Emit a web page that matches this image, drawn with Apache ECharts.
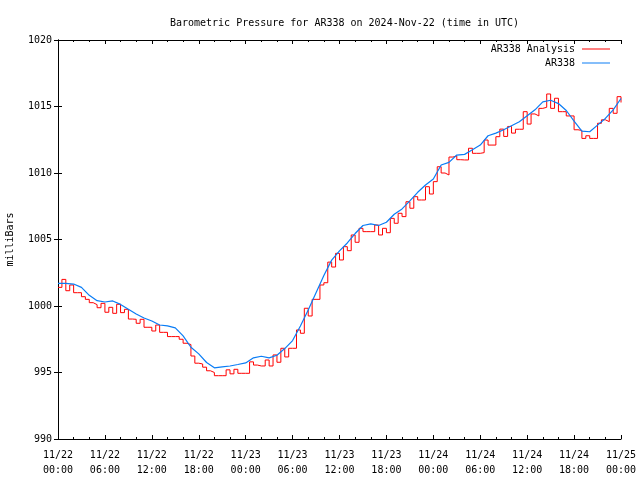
<!DOCTYPE html>
<html><head><meta charset="utf-8">
<script src="https://cdn.jsdelivr.net/npm/echarts@6/dist/echarts.min.js"></script>
<style>html,body{margin:0;padding:0;background:#fff}#c{width:640px;height:480px}</style>
</head><body><div id="c"></div>
<script>
// Hours since 2024-11-22 00:00 UTC
const xTickLabels = ['11/22\n00:00','11/22\n06:00','11/22\n12:00','11/22\n18:00','11/23\n00:00','11/23\n06:00','11/23\n12:00','11/23\n18:00','11/24\n00:00','11/24\n06:00','11/24\n12:00','11/24\n18:00','11/25\n00:00'];
const yTickLabels = ['990','995','1000','1005','1010','1015','1020'];

// AR338 Analysis (half-hourly, hours 0..72)
const analysisHours = [];
for (let i = 0; i <= 144; i++) analysisHours.push(i / 2);
const analysisValues = [
1001.4,1002.0,1001.15,1001.58,1001.0,1001.0,1000.7,1000.5,1000.25,1000.1,
999.87,1000.2,999.53,999.9,999.45,1000.13,999.5,999.75,999.02,999.0,
998.7,999.0,998.4,998.4,998.12,998.57,998.02,998.02,997.7,997.7,
997.7,997.5,997.2,997.1,996.24,995.7,995.64,995.4,995.13,995.0,
994.76,994.76,994.76,995.2,994.9,995.24,994.94,994.94,994.94,995.8,
995.56,995.49,995.49,995.94,995.49,996.32,995.77,996.82,996.17,996.82,
996.82,998.2,997.95,999.83,999.25,1000.5,1000.5,1001.58,1001.75,1003.3,
1002.93,1003.96,1003.46,1004.46,1004.16,1005.34,1004.79,1005.84,1005.59,1005.59,
1005.59,1006.09,1005.34,1005.84,1005.51,1006.59,1006.22,1006.97,1006.72,1007.84,
1007.35,1008.22,1007.97,1007.97,1008.97,1008.42,1009.35,1010.47,1010.0,1009.85,
1011.2,1011.28,1011.0,1010.98,1010.98,1011.86,1011.48,1011.48,1011.53,1012.48,
1012.1,1012.1,1012.73,1013.3,1012.75,1013.5,1013.0,1013.29,1013.29,1014.61,
1013.68,1014.44,1014.29,1014.86,1014.94,1015.94,1014.86,1015.62,1014.61,1014.61,
1014.29,1014.29,1013.25,1013.2,1012.6,1012.8,1012.6,1012.6,1013.74,1014.0,
1013.86,1014.86,1014.49,1015.74,1015.3
];

// AR338 observations (hourly, hours 0..72)
const obsHours = [];
for (let i = 0; i <= 72; i++) obsHours.push(i);
const obsValues = [
1001.7,1001.7,1001.65,1001.4,1000.8,1000.4,1000.3,1000.38,1000.12,999.75,
999.4,999.1,998.87,998.57,998.5,998.35,997.75,996.9,996.4,995.75,
995.35,995.43,995.49,995.6,995.72,996.1,996.22,996.1,996.3,996.8,
997.4,998.5,999.7,1001.0,1002.3,1003.45,1004.15,1004.74,1005.45,1006.05,
1006.17,1006.05,1006.3,1006.9,1007.3,1007.9,1008.55,1009.1,1009.55,1010.6,
1010.8,1011.35,1011.4,1011.75,1012.1,1012.8,1013.0,1013.25,1013.55,1013.85,
1014.3,1014.75,1015.35,1015.47,1015.22,1014.7,1013.9,1013.15,1013.1,1013.6,
1014.1,1014.75,1015.6
];

const FONT = 'DejaVu Sans Mono';
const FS = 10;
const chart = echarts.init(document.getElementById('c'), null, {renderer: 'canvas'});
const axisCommon = {
  axisLine: {show: true, lineStyle: {color: '#000', width: 1}},
  splitLine: {show: false}
};
chart.setOption({
  animation: false,
  backgroundColor: '#fff',
  title: {
    text: 'Barometric Pressure for AR338 on 2024-Nov-22 (time in UTC)',
    left: 339.5, top: 13, textAlign: 'center',
    textStyle: {fontFamily: FONT, fontSize: FS, fontWeight: 'normal', color: '#000'}
  },
  legend: [
    {data: ['AR338 Analysis'], right: 30, top: 44, align: 'right', itemWidth: 28, itemHeight: 1, itemGap: 0,
     icon: 'rect', textStyle: {fontFamily: FONT, fontSize: FS, color: '#000', padding: [0, 2, 0, 0]}, padding: 0},
    {data: ['AR338'], right: 30, top: 58, align: 'right', itemWidth: 28, itemHeight: 1, itemGap: 0,
     icon: 'rect', textStyle: {fontFamily: FONT, fontSize: FS, color: '#000', padding: [0, 2, 0, 0]}, padding: 0}
  ],
  grid: {left: 58, right: 19, top: 40, bottom: 41, containLabel: false, outerBoundsMode: 'none'},
  xAxis: [
    Object.assign({}, axisCommon, {
      type: 'value', min: 0, max: 72, interval: 6, position: 'bottom',
      axisTick: {show: true, inside: true, length: 4, lineStyle: {color: '#000'}},
      minorTick: {show: true, splitNumber: 3, length: 2, lineStyle: {color: '#000'}},
      minorSplitLine: {show: false},
      axisLabel: {fontFamily: FONT, fontSize: FS, color: '#000', margin: 9, lineHeight: 15,
        formatter: v => xTickLabels[Math.round(v / 6)]}
    }),
    Object.assign({}, axisCommon, {
      type: 'value', min: 0, max: 72, interval: 6, position: 'top',
      axisTick: {show: true, inside: true, length: 4, lineStyle: {color: '#000'}},
      minorTick: {show: true, splitNumber: 3, length: 2, lineStyle: {color: '#000'}},
      axisLabel: {show: false}
    })
  ],
  yAxis: [
    Object.assign({}, axisCommon, {
      type: 'value', min: 990, max: 1020, interval: 5, position: 'left',
      name: 'milliBars', nameLocation: 'middle', nameRotate: 90, nameGap: 43,
      nameTextStyle: {fontFamily: FONT, fontSize: FS, color: '#000'},
      axisTick: {show: true, inside: true, length: 4, lineStyle: {color: '#000'}},
      axisLabel: {fontFamily: FONT, fontSize: FS, color: '#000', margin: 6,
        formatter: v => yTickLabels[Math.round((v - 990) / 5)]}
    }),
    Object.assign({}, axisCommon, {
      type: 'value', min: 990, max: 1020, interval: 5, position: 'right',
      axisTick: {show: true, inside: true, length: 4, lineStyle: {color: '#000'}},
      axisLabel: {show: false}
    })
  ],
  series: [
    {name: 'AR338 Analysis', type: 'line', xAxisIndex: 0, yAxisIndex: 0, step: 'end',
     data: analysisHours.map((h, i) => [h, analysisValues[i]]),
     showSymbol: false, symbol: 'none', color: '#ff0000', lineStyle: {color: '#ff0000', width: 1}, z: 2},
    {name: 'AR338', type: 'line', xAxisIndex: 0, yAxisIndex: 0,
     data: obsHours.map((h, i) => [h, obsValues[i]]),
     showSymbol: false, symbol: 'none', color: '#0a7cf5', lineStyle: {color: '#0a7cf5', width: 1.2}, z: 3}
  ]
});
</script></body></html>
